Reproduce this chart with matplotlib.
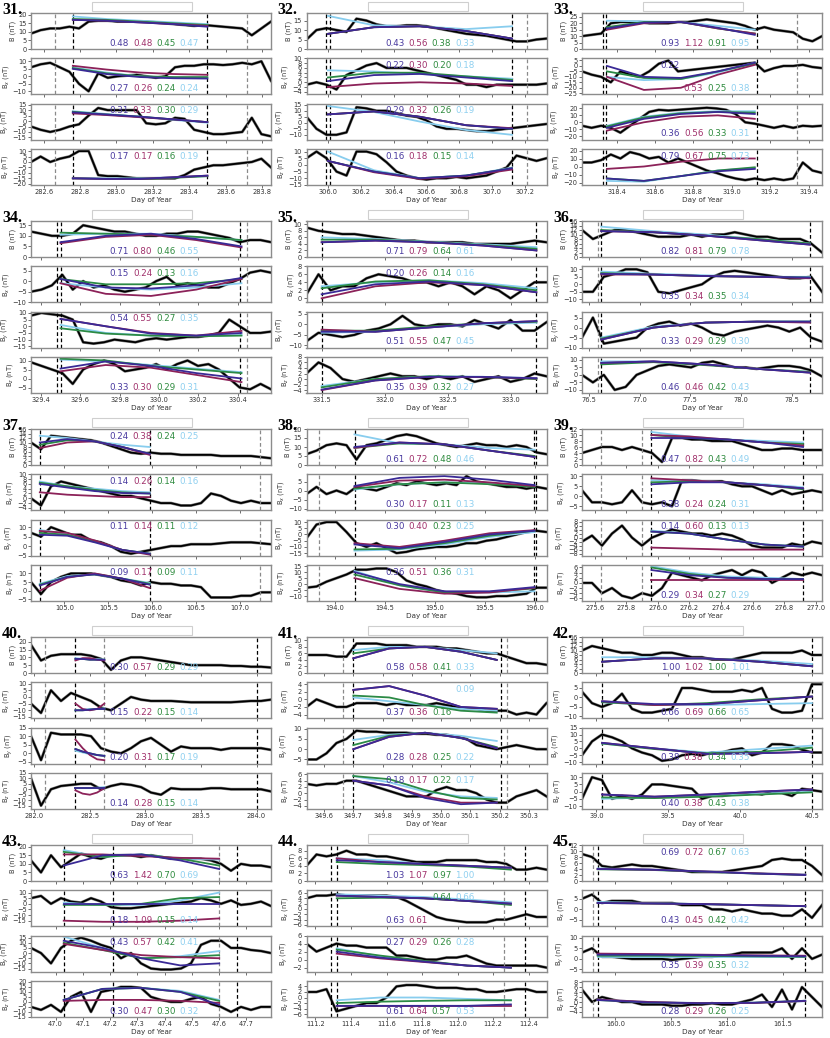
import numpy as np
import matplotlib
matplotlib.use("Agg")
import matplotlib.pyplot as plt
from matplotlib.patches import Rectangle

# ---- panel 31 ----
p31_xlim = [282.53, 283.85]
p31_xticks = [282.6, 282.8, 283.0, 283.2, 283.4, 283.6, 283.8]
p31_vblack = [282.76, 283.5]
p31_vgray = [282.66, 283.72]
p31_span = [282.76, 283.5]
p31_ylim = [[0, 21], [-12, 12], [-17, 16], [-21, 12]]
p31_yticks = [[0, 5, 10, 15, 20], [-10, -5, 0, 5, 10], [-15, -10, -5, 0, 5, 10, 15], [-20, -15, -10, -5, 0, 5, 10]]
p31_trace = [
    [9, 11, 12, 12, 13, 12, 16, 16.5, 16.5, 16, 16, 16, 16, 15.5, 15, 14.5, 14, 13.5, 14, 13.5, 13, 12.5, 12, 8, 12, 16],
    [6, 8, 9, 6, 3, -5, -10, 2, -1, 0, 0.5, 1, 0, -1, 0, 6, 7, 7, 8, 8, 7.5, 8, 9, 8, 10, -3],
    [-5, -8, -10, -8, -5, -3, 5, 12, 10, 10, 10, 10, -2, -3, -2, 3, 2, -8, -10, -12, -12, -11, -10, 3, -12, -14],
    [0, 5, 0, 3, 5, 10, 10, -12, -13, -13, -14, -15, -15, -15, -15, -15, -12, -7, -5, -3, -3, -2, -1, 0, 3, -5],
]
p31_fit = [
    [[17, 16.5, 15.5, 14.5, 13], [17, 16.5, 15.5, 14.5, 13.5], [17.5, 17, 16, 15, 14], [19, 17.5, 16.5, 15.5, 14.5]],
    [[5, 1.5, -0.5, -1.3, -1.5], [7, 4.5, 2.5, 1.5, 1], [5.5, 2, 0, -0.5, -0.5], [6, 2.5, 0, -0.8, -1]],
    [[8, 6, 4, 1.5, -1], [7, 5.5, 3.5, 1.5, -1], [8.5, 6, 4, 1.5, -1], [9, 6.5, 4, 1, -1.5]],
    [[-15, -15.5, -15.5, -14, -12.5], [-15, -15.5, -15.5, -14, -12.5], [-15, -15.5, -15.5, -14.5, -13], [-14.5, -15, -15, -14, -13]],
]
p31_num = [["0.48", "0.48", "0.45", "0.47"], ["0.27", "0.26", "0.24", "0.24"],
           ["0.31", "0.33", "0.30", "0.29"], ["0.17", "0.17", "0.16", "0.19"]]
p31_npos = ["bbbb", "bbbb", "tttt", "tttt"]

# ---- panel 32 ----
p32_xlim = [305.87, 307.33]
p32_xticks = [306.0, 306.2, 306.4, 306.6, 306.8, 307.0, 307.2]
p32_vblack = [305.99, 306.01, 307.12]
p32_vgray = [307.21]
p32_span = [306.0, 307.12]
p32_ylim = [[0, 19], [-5, 10], [-14, 16], [-15, 12]]
p32_yticks = [[0, 5, 10, 15], [-4, -2, 0, 2, 4, 6, 8, 10], [-10, -5, 0, 5, 10, 15], [-15, -10, -5, 0, 5, 10]]
p32_trace = [
    [5, 10, 11, 10, 9, 16, 15, 13, 12, 12, 12.5, 12.5, 12, 11, 10, 9, 8, 7.5, 7, 6, 5, 4, 4, 5, 5.5],
    [-1, 0, -1, -3, 3, 5, 7, 8, 6, 6, 6, 5, 4, 3, 2, 1, -1, -1, -2, -1, -1, -1, -1, -1, -0.5],
    [5, -5, -10, -10, -8, 13, 12, 10, 10, 8, 6, 5, 2, -3, -5, -5, -6, -7, -7, -6, -5, -4, -3, -2, -1],
    [5, 10, 5, -5, -8, 10, 10, 8, 2, -5, -8, -10, -11, -10, -10, -9, -10, -9, -8, -5, -2, 7, 5, 3, 5],
]
p32_fit = [
    [[8, 11.5, 12, 9.5, 5.5], [8, 11.5, 12, 9.5, 5.5], [8, 11.5, 12, 9.5, 5.5], [17.5, 12.5, 12, 10.5, 12]],
    [[0.5, 3, 3.5, 2, 0.5], [-2, -0.5, 0, -0.5, -1.5], [2, 4, 4, 2.5, 1], [5, 4.5, 3.5, 2.5, 1.5]],
    [[7, 9.5, 5, -2, -5], [7, 9.5, 5, -2, -4.5], [7, 9.5, 5, -2, -5], [14, 9, 1, -6, -10]],
    [[3, -5, -10, -8, -2.5], [3, -5.5, -10.5, -8.5, -3.5], [3, -5, -10, -8, -2.5], [10, -4, -10, -8, -2]],
]
p32_num = [["0.43", "0.56", "0.38", "0.33"], ["0.22", "0.30", "0.20", "0.18"],
           ["0.29", "0.32", "0.26", "0.19"], ["0.16", "0.18", "0.15", "0.14"]]
p32_npos = ["bbbb", "tttt", "tttt", "tttt"]

# ---- panel 33 ----
p33_xlim = [318.22, 319.47]
p33_xticks = [318.4, 318.6, 318.8, 319.0, 319.2, 319.4]
p33_vblack = [318.33, 318.345, 319.13]
p33_vgray = [319.34]
p33_span = [318.35, 319.12]
p33_ylim = [[0, 28], [-26, 7], [-25, 27], [-23, 22]]
p33_yticks = [[0, 5, 10, 15, 20, 25], [-25, -20, -15, -10, -5, 0, 5], [-20, -10, 0, 10, 20], [-20, -10, 0, 10, 20]]
p33_trace = [
    [10, 11, 12, 20, 21, 21, 21, 20, 20, 20, 21, 21, 22, 23, 22, 21, 20, 18, 15, 17, 15, 14, 13, 8, 6, 10],
    [-5, -8, -10, -15, -5, -8, -10, -5, 2, 5, -5, -4, -3, -2, -1, 0, 1, 2, 3, -5, -2, 0, 0, 1, -1, -2],
    [-5, -8, -5, -8, -15, -5, 5, 15, 18, 17, 18, 19, 20, 21, 20, 18, 12, 0, -2, -5, -8, -5, -8, -5, -6, -5],
    [5, 5, 8, 15, 10, 18, 15, 10, 12, 5, 10, 5, 0, -5, -8, -12, -15, -17, -15, -17, -15, -17, -15, 5, -5, -8],
]
p33_fit = [
    [[16, 20.5, 21, 16.5, 11], [15, 20, 21, 16, 12], [17, 21, 21, 16, 12], [22, 21.5, 21, 18, 15]],
    [[0, -10, -11, -5, 3], [-10, -22, -20, -8, 1], [-5, -11, -12, -5, 2], [-10, -13, -12, -6, 3]],
    [[-8, 5, 12, 15, 12], [-12, 0, 8, 10, 5], [-6, 7, 13, 15, 14], [-5, 8, 14, 16, 16]],
    [[-15, -18, -12, -6, -3], [-3, 0, 6, 10, 10], [-15, -18, -12, -5, -1], [-18, -19, -12, -5, -2]],
]
p33_num = [["0.93", "1.12", "0.91", "0.95"], ["0.22", "0.53", "0.25", "0.38"],
           ["0.36", "0.56", "0.33", "0.31"], ["0.79", "0.67", "0.75", "0.73"]]
p33_npos = ["bbbb", "tbbb", "bbbb", "tttt"]

# ---- panel 34 ----
p34_xlim = [329.35, 330.57]
p34_xticks = [329.4, 329.6, 329.8, 330.0, 330.2, 330.4]
p34_vblack = [329.48, 329.50, 330.41]
p34_vgray = [330.45]
p34_span = [329.5, 330.42]
p34_ylim = [[0, 17], [-10, 7], [-16, 11], [-8, 12]]
p34_yticks = [[0, 5, 10, 15], [-10, -5, 0, 5], [-15, -10, -5, 0, 5, 10], [-5, 0, 5, 10]]
p34_trace = [
    [12, 11, 10, 10, 11, 15, 14, 13, 12, 12, 11, 10, 10, 11, 11, 12, 12, 11, 10, 9, 7, 8, 8, 7],
    [-5, -4, -2, 3, -4, 0, -3, -2, -4, -5, -4, -3, 0, 2, -2, -1, -2, -3, -3, -1, 1, 4, 5, 4],
    [8, 10, 9, 8, 5, -12, -13, -12, -10, -11, -12, -10, -9, -10, -9, -8, -8, -7, -5, 5, 0, -5, -5, -4],
    [9, 7, 5, 3, -3, 5, 8, 10, 8, 4, 5, 6, 8, 5, 8, 10, 7, 8, 5, 0, -5, -6, -3, -6],
]
p34_fit = [
    [[7, 10, 11, 8.5, 5], [6.5, 9.5, 10.5, 8, 4.5], [11.5, 11, 10.5, 9.5, 8], [10.5, 11, 11, 9.5, 8]],
    [[1, -3, -3.5, -2, 1.5], [-1, -6, -7, -4, 1], [1, -1.5, -1.5, -1, 1], [-1, -3, -4, -3, -1]],
    [[5.5, 0, -5.5, -7, -5], [5.5, 0, -5, -7, -3.5], [-1.5, -5.5, -7, -7.5, -7], [1, -5, -7, -7.5, -6.5]],
    [[5.5, 9.5, 7, 3, 0], [4, 7.5, 6, 2, -2], [11, 10, 7, 5, 3], [10.5, 9.5, 7.5, 5.5, 3.5]],
]
p34_num = [["0.71", "0.80", "0.46", "0.55"], ["0.15", "0.24", "0.13", "0.16"],
           ["0.54", "0.55", "0.27", "0.35"], ["0.33", "0.30", "0.29", "0.31"]]
p34_npos = ["bbbb", "tttt", "tttt", "bbbb"]

# ---- panel 35 ----
p35_xlim = [331.38, 333.28]
p35_xticks = [331.5, 332.0, 332.5, 333.0]
p35_vblack = [331.5, 333.2]
p35_vgray = []
p35_span = [331.5, 333.2]
p35_ylim = [[0, 11], [-1, 8], [-11, 6], [-5, 8]]
p35_yticks = [[0, 2, 4, 6, 8, 10], [0, 2, 4, 6, 8], [-10, -5, 0, 5], [-4, -2, 0, 2, 4, 6, 8]]
p35_trace = [
    [9, 8, 7.5, 7, 7, 6.5, 6, 5.5, 5, 5, 4.5, 4.5, 4.5, 4.5, 4, 4, 4, 4, 4.5, 5, 4.5],
    [1, 6, 2, 3, 3, 5, 6, 5.5, 5, 4, 4, 3, 4, 3, 1, 3, 2, 0, 2, 4, 4],
    [-8, -4, -5, -6, -5, -3, -2, 0, 4, 0, -1, 0, 0, -1, 2, 0, -2, 2, -3, -3, 1],
    [2, 6, 4, 0, -1, 0, 1, 2, 1, 1, 0, 1, 0, 1, -1, 0, 1, -1, 0, 2, 1],
]
p35_fit = [
    [[4.5, 5, 4.5, 3.5, 2], [4.5, 5, 4.5, 3.5, 2], [5.3, 5.3, 4.6, 3.7, 2.5], [6, 5.5, 4.7, 3.9, 3]],
    [[1, 3.5, 4.2, 3.3, 1.5], [0, 3, 4, 3.3, 1.5], [2.5, 4.2, 4.5, 3.5, 2], [3, 4, 4.5, 3.8, 2.5]],
    [[-3.5, -3.5, -1.5, 0.5, 1.5], [-2.5, -3.5, -1.5, 0.5, 1.5], [-3, -3, -1, 0.5, 1.2], [-4, -3.5, -1.5, 0, 0.8]],
    [[-3.8, -0.5, 0.8, 0.8, 0.3], [-4, -0.5, 0.8, 0.7, 0.2], [-3, 0, 1, 0.7, 0], [-2.5, 0, 1, 0.8, 0.3]],
]
p35_num = [["0.71", "0.79", "0.64", "0.61"], ["0.20", "0.26", "0.14", "0.16"],
           ["0.51", "0.55", "0.47", "0.45"], ["0.35", "0.39", "0.32", "0.27"]]
p35_npos = ["bbbb", "tttt", "bbbb", "bbbb"]

# ---- panel 36 ----
p36_xlim = [76.43, 78.8]
p36_xticks = [76.5, 77.0, 77.5, 78.0, 78.5]
p36_vblack = [76.62, 78.68]
p36_vgray = [76.59]
p36_span = [76.62, 78.68]
p36_ylim = [[0, 16], [-12, 12], [-10, 8], [-12, 12]]
p36_yticks = [[0, 2, 4, 6, 8, 10, 12, 14, 16], [-10, -5, 0, 5, 10], [-10, -5, 0, 5], [-10, -5, 0, 5, 10]]
p36_trace = [
    [12, 8, 10, 12, 12, 11, 10, 9, 9, 9, 10, 9, 10, 10, 11, 10, 9, 9, 8, 8, 8, 6, 2],
    [-5, -5, 5, 7, 10, 10, 8, -5, -6, -4, -2, 0, 5, 8, 9, 8, 7, 6, 5, 4, 4, 5, -5],
    [-5, 5, -8, -7, -6, -5, 0, 2, 3, 1, 2, 0, -3, -4, -2, -1, 0, 1, 0, -2, 0, -5, -7],
    [0, -5, 0, -10, -8, 0, 3, 6, 7, 6, 5, 8, 9, 7, 5, 5, 4, 5, 6, 6, 5, 3, -1],
]
p36_fit = [
    [[11.5, 11, 9.5, 7.5, 5.5], [11.5, 11, 9.5, 7.5, 5.5], [12, 11, 9.5, 8, 6], [13.5, 11.5, 10, 8, 6]],
    [[7, 6.5, 5.5, 5, 4.5], [6.5, 6.5, 5.5, 5, 4], [7.5, 6.5, 5.5, 5, 4.5], [8.5, 7, 6, 5, 5]],
    [[-6, 0, 2.5, 3, 3], [-6, 0, 2.5, 3, 2.5], [-5.5, 0, 2.5, 3, 3], [-5, 0.5, 2.5, 3, 3]],
    [[8, 9, 7, 4, 1.5], [8, 9, 7, 4, 1.5], [7, 8.5, 6.5, 4, 2], [9, 9, 7, 4, 2]],
]
p36_num = [["0.82", "0.81", "0.79", "0.78"], ["0.35", "0.34", "0.35", "0.34"],
           ["0.33", "0.29", "0.29", "0.30"], ["0.46", "0.46", "0.42", "0.43"]]
p36_npos = ["bbbb", "bbbb", "bbbb", "bbbb"]

# ---- panel 37 ----
p37_xlim = [104.62, 107.35]
p37_xticks = [105.0, 105.5, 106.0, 106.5, 107.0]
p37_vblack = [104.72, 105.97]
p37_vgray = [107.22]
p37_span = [104.72, 105.97]
p37_ylim = [[0, 16], [-5, 10], [-5, 14], [-6, 15]]
p37_yticks = [[0, 2, 4, 6, 8, 10, 12, 14, 16], [-4, -2, 0, 2, 4, 6, 8, 10], [-5, 0, 5, 10], [-5, 0, 5, 10]]
p37_trace = [
    [10, 7, 13, 12.5, 12, 11.5, 11, 10, 8.5, 7, 5.5, 5, 5.5, 5, 5, 4.5, 4.5, 4.5, 4.5, 4, 4, 4, 4, 3.5, 3],
    [0, -3, 5, 7, 6, 5, 4, 3, 2, 1, 1, 0, -1, -2, -2, -3, -3, -2, 2, 1, -1, -2, -1, -2, -2],
    [7, 5, 10, 8, 6, 6, 3, 2, 0, -3, -4, -3, -2, -1, 0, 0, 1, 1, 1, 1.5, 2, 2, 2, 1.5, 1],
    [5, -2, 5, 8, 10, 10, 10, 9, 8, 6, 5, 3, 5, 4, 4, 3, 3, 2, -4, -4, -4, -3, -3, -1, -1],
]
p37_fit = [
    [[10, 11.5, 10.5, 8, 5], [7.5, 10, 10.5, 8, 4.5], [9, 11, 10.5, 8, 5], [13, 12, 10.5, 9, 8]],
    [[6, 4.5, 3, 2.2, 2], [2.5, 1.5, 1, 0.5, 0.5], [6.5, 5, 3.5, 2.5, 2], [7, 5, 4, 3, 2.5]],
    [[6, 5.5, 2, -2, -4], [8, 7, 3, -2, -4.5], [7, 6, 2.5, -2, -4], [8.5, 6.5, 2.5, -2, -4]],
    [[3, 8, 9.5, 7, 3.5], [0, 7.5, 10, 7, 1.5], [3.5, 8, 9.5, 7, 4], [4, 8.5, 9.5, 7, 4.5]],
]
p37_num = [["0.24", "0.38", "0.24", "0.25"], ["0.14", "0.26", "0.14", "0.16"],
           ["0.11", "0.14", "0.11", "0.12"], ["0.09", "0.17", "0.09", "0.11"]]
p37_npos = ["tttt", "tttt", "tttt", "tttt"]

# ---- panel 38 ----
p38_xlim = [193.72, 196.12]
p38_xticks = [194.0, 194.5, 195.0, 195.5, 196.0]
p38_vblack = [194.2, 195.99, 196.01]
p38_vgray = [193.84]
p38_span = [194.2, 196.0]
p38_ylim = [[0, 20], [-11, 9], [-17, 12], [-14, 16]]
p38_yticks = [[0, 5, 10, 15, 20], [-10, -5, 0, 5], [-15, -10, -5, 0, 5, 10], [-10, -5, 0, 5, 10, 15]]
p38_trace = [
    [6, 8, 11, 12, 11, 3, 11, 12, 14, 16, 17, 16, 14, 12, 11, 10, 11, 12, 11, 11, 10, 11, 10, 7, 6],
    [-2, 2, -2, 0, -2, 2, 1, 0, 2, 4, 3, 5, 4, 3, 4, 3, 8, 5, 4, 3, 2, 2, 1, 2, 1],
    [-3, 8, 10, 10, 2, -7, -10, -7, -11, -15, -14, -12, -11, -10, -10, -9, -7, -7, -5, -4, -2, 0, 2, 3, 2],
    [-3, -2, 2, 5, 8, 12, 12, 13, 13, 10, 3, 0, -2, -5, -7, -8, -10, -11, -11, -10, -10, -9, -8, -3, -3],
]
p38_fit = [
    [[10, 12.5, 11.5, 8, 4.5], [9.5, 12.5, 11.5, 8, 4.5], [9.5, 12, 11.5, 8, 5], [17, 12, 11.5, 9.5, 8.5]],
    [[2.5, 7, 8, 6, 3], [2, 5.5, 6, 4.5, 2.5], [1, 3.5, 4.5, 3.5, 2], [0.5, 3.5, 4.5, 4, 2.5]],
    [[-8, -11, -6, 0, 3], [-7, -10, -5, 1, 3.5], [-12, -11.5, -7, -1, 3], [-13, -12, -8, -2, 2]],
    [[10, 0, -6, -6, -2.5], [5, -4, -8, -7, -3], [8, -1, -7, -6.5, -3.5], [11, -1, -7, -7, -6]],
]
p38_num = [["0.61", "0.72", "0.48", "0.46"], ["0.30", "0.17", "0.11", "0.13"],
           ["0.30", "0.40", "0.23", "0.25"], ["0.36", "0.51", "0.36", "0.31"]]
p38_npos = ["bbbb", "bbbb", "tttt", "tttt"]

# ---- panel 39 ----
p39_xlim = [275.52, 277.04]
p39_xticks = [275.6, 275.8, 276.0, 276.2, 276.4, 276.6, 276.8, 277.0]
p39_vblack = [275.96, 276.92]
p39_vgray = [275.64, 275.9]
p39_span = [275.96, 276.92]
p39_ylim = [[0, 12], [-7, 11], [-9, 9], [-7, 7]]
p39_yticks = [[0, 2, 4, 6, 8, 10, 12], [-5, 0, 5, 10], [-8, -6, -4, -2, 0, 2, 4, 6, 8], [-6, -4, -2, 0, 2, 4, 6]]
p39_trace = [
    [4, 5, 6, 6, 5, 6, 5, 4, 1, 9, 9, 8.5, 8.5, 8, 8, 8, 7, 6, 5, 5, 5.5, 5.5, 5, 5, 5],
    [3, -3, -3, -4, -3, 3, -3, -4, -3, -5, 8, 8, 7.5, 7.5, 7.5, 6, 5, 5, 3, 1, 3, 1, 2, 3, 2],
    [-2, 1, -4, 2, 6, 0, -4, 0, 2, 4, 3, 2, 2, 1, 2, 1, -1, -4, -5, -5, -5, -3, -4, -2, -3],
    [0, 0, -4, -2, -5, -6, -4, -5, -2, 4, 3, 2, 1, 3, 4, 5, 3, 5, 4, 0, 2, 4, 3, 4, 3],
]
p39_fit = [
    [[9, 9, 8.5, 7.5, 6], [10, 9.5, 8.5, 7.5, 6.5], [10, 9, 8.5, 7.5, 7], [11, 9.5, 8.5, 8, 7.5]],
    [[6, 7, 7, 5.5, 4], [9, 8, 7, 5.5, 4], [7, 7.5, 7, 5.5, 3.5], [8, 8, 7, 6, 4.5]],
    [[3, 2, -1, -3.5, -4.5], [-5, -5.5, -6, -6, -6], [3, 2, -1, -3.5, -4.5], [3.5, 2, -1, -3.5, -4.5]],
    [[5, 3, 2, 1.5, 1.5], [1, 1, 1, 1, 1], [6, 3.5, 2, 1.5, 1.5], [6.5, 4, 2.5, 2, 1.5]],
]
p39_num = [["0.47", "0.82", "0.43", "0.49"], ["0.28", "0.24", "0.24", "0.31"],
           ["0.14", "0.60", "0.13", "0.13"], ["0.29", "0.34", "0.27", "0.29"]]
p39_npos = ["bbbb", "bbbb", "tttt", "bbbb"]

# ---- panel 40 ----
p40_xlim = [281.97, 284.13]
p40_xticks = [282.0, 282.5, 283.0, 283.5, 284.0]
p40_vblack = [282.37, 284.0]
p40_vgray = [282.1, 282.63]
p40_span = [282.37, 282.63]
p40_ylim = [[0, 23], [-16, 11], [-6, 15], [-18, 15]]
p40_yticks = [[0, 5, 10, 15, 20], [-15, -10, -5, 0, 5, 10], [-5, 0, 5, 10, 15], [-15, -10, -5, 0, 5, 10, 15]]
p40_trace = [
    [18, 8, 11, 12, 12, 12, 11, 9, 2, 8, 10, 10, 9, 8, 7, 6, 5, 5, 5, 5, 4.5, 4.5, 4, 4, 3.5],
    [-5, -12, 5, -3, 3, 0, -3, -8, -10, -5, 0, -2, -3, -3, -3, -3.5, -4, -4, -4, -4, -4, -3.5, -3, -3, -2],
    [10, -4, 12, 11, 11, 11, 10, 3, 1, 0, 3, 7, 9, 5, 1, 4, 3, 3, 3, 2, 3, 3, 3, 3, 2],
    [10, -15, 0, 3, 4, 5, 5, 0, 3, 5, 4, 2, -3, -5, 1, 0, 0, 0, 1, 1, 0, 0, 0, 0, -2],
]
p40_fit = [
    [[9, 9, 8.5, 8.5, 8.5], [8, 9.5, 9.5, 8.5, 8], [9, 9, 8.5, 8.5, 8.5], [9.5, 9, 9, 9, 8.5]],
    [[-10, -10, -9.5, -9, -9], [-5, -9, -10, -9, -5], [-10, -10, -9.5, -9, -9], [-10, -9.5, -9, -9, -8.5]],
    [[2.5, 1, 0, -1, -1.5], [8, 3, -1, -3.5, -4], [2.5, 1, 0, -1, -1.5], [1.5, 0.5, -0.5, -1, -1.5]],
    [[1, 1, 1, 1, 1], [-1, -4, -5, -3, 1], [1, 1, 1, 1, 1], [1, 1, 1, 1.5, 2]],
]
p40_num = [["0.30", "0.57", "0.29", "0.29"], ["0.15", "0.22", "0.15", "0.14"],
           ["0.20", "0.31", "0.17", "0.19"], ["0.14", "0.28", "0.15", "0.14"]]
p40_npos = ["bbbb", "bbbb", "bbbb", "bbbb"]

# ---- panel 41 ----
p41_xlim = [349.54, 350.36]
p41_xticks = [349.6, 349.7, 349.8, 349.9, 350.0, 350.1, 350.2, 350.3]
p41_vblack = [349.7, 350.205]
p41_vgray = [349.665, 350.225]
p41_span = [349.7, 350.19]
p41_ylim = [[0, 11], [-5, 4.5], [-7, 10.5], [-5, 6.5]]
p41_yticks = [[0, 2, 4, 6, 8, 10], [-4, -2, 0, 2, 4], [-5, 0, 5, 10], [-4, -2, 0, 2, 4, 6]]
p41_trace = [
    [5.5, 5.5, 5.5, 5, 5, 9, 9, 9, 8.5, 8.5, 8.5, 8, 8, 8, 7.5, 7.5, 7, 6.5, 6, 6, 5, 4, 3, 3, 2.5],
    [-2, 0, -1, -2, -2, -1, -1, -1, -1.5, -1, -1.5, -1.5, -1.5, -1, -1.5, -2, -2.5, -2.5, -3, -3, -3, -4, -3.5, -4, -1],
    [-5, -5, -2, 3, 5, 9, 8.5, 8.5, 8, 8, 8, 7.5, 7.5, 7, 7, 6, 5, 2, 1, 0, 1, 2, 1, 0, 0],
    [3, 2.5, 3, 3, 4, 4, 3, 2, 1, 0, -1, -1, -1, 1, 2, 1, 1, 0, -2, -3, -3, -1, 0, 1, -1],
]
p41_fit = [
    [[4.5, 7.5, 8, 6.5, 4], [4.5, 7.5, 8, 6.5, 4], [6, 7.5, 8, 6.5, 4], [7, 8, 8, 7, 6]],
    [[2.5, 3.5, 1, -2, -2.5], [2.5, 3.5, 1, -2, -2.5], [1, 0.5, -1.5, -3, -3.5], [0.5, -0.5, -1.5, -2.5, -3]],
    [[0, 6, 8, 5.5, 0.5], [0, 6, 8, 5.5, 0.5], [2, 6.5, 8, 5.5, 1], [4.5, 7, 8, 6.5, 4]],
    [[4, 2.5, -1.5, -3.5, -3], [4, 2.5, -1, -3, -3], [5.5, 4.5, 1, -1.5, -2], [5.5, 3.5, 0.5, -1, -1.5]],
]
p41_num = [["0.58", "0.58", "0.41", "0.33"], ["0.37", "0.36", "0.16", "0.09"],
           ["0.28", "0.28", "0.25", "0.22"], ["0.18", "0.17", "0.22", "0.17"]]
p41_npos = ["bbbb", "bbbt", "bbbb", "tttt"]

# ---- panel 42 ----
p42_xlim = [38.9, 40.57]
p42_xticks = [39.0, 39.5, 40.0, 40.5]
p42_vblack = [39.04, 40.5]
p42_vgray = []
p42_span = [39.04, 40.5]
p42_ylim = [[0, 16], [-11, 8], [-11, 15], [-12, 13]]
p42_yticks = [[0, 2, 4, 6, 8, 10, 12, 14, 16], [-10, -5, 0, 5], [-10, -5, 0, 5, 10, 15], [-10, -5, 0, 5, 10]]
p42_trace = [
    [10, 12, 11, 10, 9, 9, 8, 8, 9, 9, 8, 7, 7, 6, 6, 6, 7, 8, 9, 9, 9, 9, 10, 8, 8],
    [3, -3, -5, -3, 2, -6, -8, -8, -7, -6, 5, 5, 4, 3, 3, 3, 4, 3, 5, -6, -8, -8, -7, 7, 7],
    [-5, 5, 10, 8, 5, 0, -3, -5, -9, -8, -5, -4, -5, -3, -3, -1, 0, -5, -3, 3, 3, 2, -1, -3, -3],
    [-5, 10, 8, -5, -3, -5, -2, 5, 5, 4, 3, 2, -5, -3, -3, -2, -2, -1, -2, 0, -1, -3, 2, 1, 0],
]
p42_fit = [
    [[5, 6.5, 6.5, 5, 3], [5, 6.5, 6.5, 5, 3], [5, 6.5, 6.5, 5, 3], [7, 7, 6.5, 5.5, 4]],
    [[-2, -3.5, -3.5, -1.5, 0.5], [-2, -4, -3.5, -1.5, 0.5], [-2.5, -4, -3, -1, 0.5], [-2.5, -4, -4, -3.5, -3]],
    [[4, 0, -4, -3.5, -2.5], [4, 0, -4, -3.5, -2.5], [3.5, -0.5, -3.5, -2.5, 0.5], [3.5, 0, -3, -0.5, 2]],
    [[-2, -3.5, -2, 0, 1.5], [-2, -3.5, -2, 0, 1.5], [-4, -4.5, -3.5, -2, -0.5], [-5, -4, -3, -1.5, 0]],
]
p42_num = [["1.00", "1.02", "1.00", "1.01"], ["0.66", "0.69", "0.66", "0.65"],
           ["0.38", "0.38", "0.34", "0.35"], ["0.40", "0.38", "0.43", "0.38"]]
p42_npos = ["bbbb", "bbbb", "bbbb", "bbbb"]

# ---- panel 43 ----
p43_xlim = [46.91, 47.79]
p43_xticks = [47.0, 47.1, 47.2, 47.3, 47.4, 47.5, 47.6, 47.7]
p43_vblack = [47.03, 47.21, 47.665]
p43_vgray = [47.6]
p43_span = [47.03, 47.6]
p43_ylim = [[0, 21], [-20, 12], [-18, 17], [-15, 21]]
p43_yticks = [[0, 5, 10, 15, 20], [-15, -10, -5, 0, 5, 10], [-15, -10, -5, 0, 5, 10, 15], [-15, -10, -5, 0, 5, 10, 15, 20]]
p43_trace = [
    [12, 5, 15, 8, 12, 16, 14, 13, 15, 15, 15, 14, 15, 14, 13, 13, 13, 13, 12, 10, 6, 10, 9, 9, 8],
    [5, 7, 0, 5, 2, 1, 5, 2, -3, -4, -4, -3, -2, -1, 0, 1, 2, 5, 3, 0, 3, -1, 0, 2, -2],
    [5, 0, -10, 5, 12, 15, 12, 8, 5, -5, 0, -10, -15, -16, -16, -15, -10, 8, 12, 12, 5, 5, 3, 2, 0],
    [-5, -8, -3, -10, 5, 10, -10, 10, 12, 15, 15, 14, 5, 2, 0, 0, 3, 5, -2, -5, -10, -5, -8, -5, -5],
]
p43_fit = [
    [[9, 15, 15.5, 12, 7], [15.5, 15.5, 14.5, 13.5, 13], [17, 14, 15.5, 13, 9], [18, 14, 15.5, 13, 12.5]],
    [[0, 0, 0, 0, 0], [-15, -16, -16, -15, -13], [-1, -1, 0, 5, 6], [1, -1, -1, 3, 10]],
    [[12, 5, -5, -12, -10], [9, 3, -2, -4, -5], [10, 3, -5, -4, -2], [16, 5, -5, -3, 2]],
    [[2, 13, 14, 10, -3], [1, 2, 2, 1, -1], [2, 13, 14, 10, 1], [2, 13, 14, 11, 2]],
]
p43_num = [["0.63", "1.42", "0.70", "0.69"], ["0.18", "1.09", "0.15", "0.14"],
           ["0.43", "0.57", "0.42", "0.41"], ["0.30", "0.47", "0.30", "0.32"]]
p43_npos = ["bbbb", "bbbb", "tttt", "bbbb"]

# ---- panel 44 ----
p44_xlim = [111.15, 112.5]
p44_xticks = [111.2, 111.4, 111.6, 111.8, 112.0, 112.2, 112.4]
p44_vblack = [111.29, 111.32, 112.38]
p44_vgray = [112.26]
p44_span = [111.32, 112.3]
p44_ylim = [[0, 9.5], [-6.5, 7], [-3, 6], [-7, 6]]
p44_yticks = [[0, 2, 4, 6, 8], [-6, -4, -2, 0, 2, 4, 6], [-2, 0, 2, 4, 6], [-6, -4, -2, 0, 2, 4]]
p44_trace = [
    [4, 7, 6.5, 7, 8, 7, 7, 6.5, 6.5, 6, 5.5, 5, 5, 5, 5.5, 5.5, 5.5, 5.5, 5, 5, 4.5, 3, 3, 3.5, 3],
    [4, 5, 5, 5.5, 5, 5, 5, 5, 5, 4.5, 3, 1, -1, -3, -4, -4.5, -5, -5, -5, -4, -4, -3, -2, -3, -3],
    [4, 2, 3, 4, 3.5, 3.5, 3, 3, 3, 1, 1, 0.5, 0, 0, 0.5, 0.5, 1, 0, -1, -1.5, -1.5, -1.5, -1.5, -1.5, -2],
    [2, 2, 3, -5, -4, -3, -2, -2, 0, 4, 4.5, 4.5, 4, 3.5, 3.5, 3.5, 3, 3, 2, 2, 2.5, 3, 3, 2, 2],
]
p44_fit = [
    [[5.5, 5, 4.5, 4, 3.5], [6, 5, 4.5, 4, 3.5], [5, 4.5, 4.2, 3.8, 3], [6, 5.5, 4.5, 4, 3.5]],
    [[5, 4.5, 4, 3, 2], [5, 4.5, 4, 3, 2], [4, 4.2, 4, 3, 1.5], [5.5, 5, 4.5, 3.5, 2.5]],
    [[2, 0.5, -0.5, -1.5, -2], [1.5, 0.3, -0.6, -1.5, -2], [2.5, 1, -0.3, -1.5, -2], [2.8, 0.8, -0.5, -1.5, -2]],
    [[-3, -3, -3, -3, -2.5], [-3, -3, -3, -3, -3], [-2, -1.5, -1.2, -1, -1], [-1, 0, 0, -0.5, -1]],
]
p44_num = [["1.03", "1.07", "0.97", "1.00"], ["0.63", "0.61", "0.64", "0.66"],
           ["0.27", "0.29", "0.26", "0.28"], ["0.61", "0.64", "0.57", "0.53"]]
p44_npos = ["bbbb", "bbtt", "tttt", "bbbb"]

# ---- panel 45 ----
p45_xlim = [159.7, 161.85]
p45_xticks = [160.0, 160.5, 161.0, 161.5]
p45_vblack = [159.84, 161.7]
p45_vgray = [159.8]
p45_span = [159.84, 161.7]
p45_ylim = [[0, 12], [-8, 9], [-6, 11], [-6, 8.5]]
p45_yticks = [[0, 2, 4, 6, 8, 10, 12], [-5, 0, 5], [-5, 0, 5, 10], [-4, -2, 0, 2, 4, 6, 8]]
p45_trace = [
    [9, 8, 5, 4.5, 5, 5.5, 5, 5, 4.5, 4, 3.5, 3, 3, 3, 3, 3.5, 4, 4.5, 5, 7, 7.5, 7, 7, 5, 2],
    [5, 7, 3, 4, 4, 4, 3, 3, 3, 3, 2, 2, 2, 0, 0, -1, 0, -1, -2, -2, -3, -3, 0, -4, 2],
    [3, 5, 1, 1, 0.5, 0, 0, 0, 0, -0.5, 0, 0.5, 1, 1, 1.5, 2, 3, 3, 3, 3, 5, 0, 5, 0, 2],
    [5, 0, 2, 1, 0, 0, -1, -1, -1, -1.5, -1.5, -1, -1, -0.5, -1, -1, 0, 1, 3, -2, 5, -3, 6, 2, -2],
]
p45_fit = [
    [[4, 3.8, 3.2, 2.5, 2], [4, 3.8, 3.2, 2.6, 2.1], [3.9, 3.7, 3.1, 2.5, 2], [4.2, 3.8, 3.2, 2.6, 2.2]],
    [[3, 2.8, 2.5, 2, 1.5], [3, 2.8, 2.5, 2, 1.5], [3, 2.8, 2.5, 2, 1.5], [3.5, 3, 2.5, 2, 1.5]],
    [[2, 2, 1.8, 1.5, 1.2], [2.5, 2.3, 2, 1.7, 1.5], [1.5, 1.5, 1.4, 1.2, 1], [1, 1, 1, 1, 1]],
    [[0.8, -0.2, -0.5, -0.3, 0.5], [1, 0, -0.5, -0.4, 0.4], [0.8, -0.2, -0.5, -0.3, 0.5], [1, 0, -0.4, -0.3, 0.3]],
]
p45_num = [["0.69", "0.72", "0.67", "0.63"], ["0.43", "0.45", "0.42", "0.42"],
           ["0.35", "0.39", "0.35", "0.32"], ["0.28", "0.29", "0.26", "0.25"]]
p45_npos = ["tttt", "bbbb", "bbbb", "bbbb"]

g = globals()
panel_ids = list(range(31, 46))
ylabels = ["B (nT)", "B$_x$ (nT)", "B$_y$ (nT)", "B$_z$ (nT)"]
fit_colors = ["#3a2a96", "#8c2259", "#2b8a45", "#88cdee"]
num_colors = ["#48399f", "#a0306b", "#2e8b3e", "#8fd0f0"]
draw_order = [3, 2, 1, 0]
num_x = [0.368, 0.465, 0.563, 0.66]

W, H = 830, 1038
fig = plt.figure(figsize=(W / 100, H / 100), dpi=100)

col_left = [31, 306.5, 582]
ax_w = 240
row_top = [13, 221, 429, 637, 845]
sub_h = 36
sub_pitch = 45.3

for k, pid in enumerate(panel_ids):
    r, c = divmod(k, 3)
    left = col_left[c]
    top = row_top[r]
    xlim = g[f"p{pid}_xlim"]
    span = g[f"p{pid}_span"]
    fig.text((left - 29) / W, 1 - (top - 3) / H, f"{pid}.", fontsize=11.5, fontweight="bold",
             family="Liberation Serif", va="center", ha="left")
    fig.patches.append(Rectangle(((left + 61) / W, 1 - (top - 2) / H), 100 / W, 9 / H,
                                 transform=fig.transFigure, fill=True, facecolor="white",
                                 edgecolor="#cfcfcf", lw=0.8))
    for i in range(4):
        y0 = top + i * sub_pitch
        ax = fig.add_axes([left / W, 1 - (y0 + sub_h) / H, ax_w / W, sub_h / H])
        tr = g[f"p{pid}_trace"][i]
        tx = np.linspace(xlim[0], xlim[1], len(tr))
        ax.plot(tx, tr, color="#808080", lw=2.1, solid_joinstyle="round")
        ax.plot(tx, tr, color="black", lw=1.3, solid_joinstyle="round")
        for v in g[f"p{pid}_vgray"]:
            ax.axvline(v, color="#8a8a8a", lw=0.9, ls=(0, (3, 2)))
        for v in g[f"p{pid}_vblack"]:
            ax.axvline(v, color="black", lw=0.9, ls=(0, (3, 2)))
        fits = g[f"p{pid}_fit"][i]
        for j in draw_order:
            fx = np.linspace(span[0], span[1], len(fits[j]))
            ax.plot(fx, fits[j], color=fit_colors[j], lw=1.3)
        npos = g[f"p{pid}_npos"][i]
        for j, s in enumerate(g[f"p{pid}_num"][i]):
            yy = 0.80 if npos[j] == "t" else 0.16
            ax.text(num_x[j], yy, s, color=num_colors[j], fontsize=6.3,
                    transform=ax.transAxes, ha="center", va="center")
        ax.set_xlim(xlim)
        ax.set_ylim(g[f"p{pid}_ylim"][i])
        ax.set_yticks(g[f"p{pid}_yticks"][i])
        ax.set_xticks(g[f"p{pid}_xticks"])
        ax.set_ylabel(ylabels[i], fontsize=4.8, labelpad=1.5, color="#333333")
        ax.tick_params(labelsize=4.8, length=2, width=0.5, pad=1.2, colors="#333333")
        for sp in ax.spines.values():
            sp.set_color("#8c8c8c")
            sp.set_linewidth(1.0)
        if i < 3:
            ax.set_xticklabels([])
        else:
            ax.xaxis.set_major_formatter(matplotlib.ticker.FormatStrFormatter("%.1f"))
            ax.set_xlabel("Day of Year", fontsize=5.2, labelpad=1.5, color="#333333")

fig.savefig("out.png", dpi=100)
